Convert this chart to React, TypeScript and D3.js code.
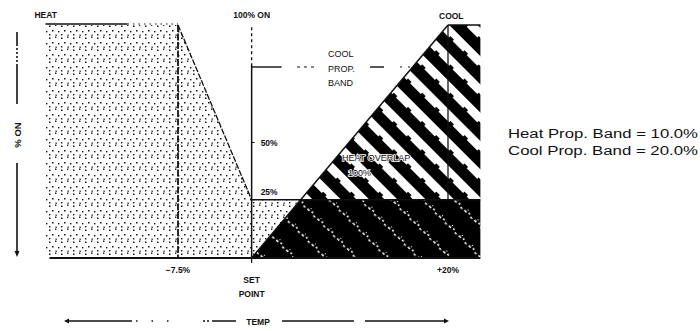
import React from "react";
import * as d3 from "d3";

// ---- data (temperature offset in %, output in % ON) ----
const tempExtent = [-21, 23.3];
const heatOutline: [number, number][] = [
  [-21, 100],
  [-7.5, 100],
  [0, 25],
  [0, 0],
  [-21, 0],
];
const coolLine: [number, number][] = [
  [0, 0],
  [20, 100],
];
const overlapLevel = 25;
const axisPctLabels = [
  { pct: 50, label: "50%" },
  { pct: 25, label: "25%" },
];
const tempTickLabels = [
  { t: -7.5, label: "\u22127.5%" },
  { t: 20, label: "+20%" },
];
const legendLines = ["Heat Prop. Band = 10.0%", "Cool Prop. Band = 20.0%"];
const coolBandLines = ["COOL", "PROP.", "BAND"];
const overlapLines = ["HEAT OVERLAP", "100%"];

const W = 700;
const H = 331;
const FONT = "'Liberation Sans', Arial, sans-serif";

export default function App() {
  const x = d3.scaleLinear().domain([-7.5, 20]).range([178, 448]);
  const y = d3.scaleLinear().domain([0, 100]).range([258, 25]);
  const line = d3
    .line<[number, number]>()
    .x((d) => x(d[0]))
    .y((d) => y(d[1]));

  const x0 = x(tempExtent[0]);
  const x1 = x(tempExtent[1]);
  const xs = x(0);
  const cross = (overlapLevel / 100) * (coolLine[1][0] - coolLine[0][0]);

  const heatPoly = line([...heatOutline, heatOutline[0]]) || "";
  const overlapTri =
    line([
      [0, overlapLevel],
      [cross, overlapLevel],
      [0, 0],
      [0, overlapLevel],
    ]) || "";
  const lowerBlack =
    line([
      [0, 0],
      [cross, overlapLevel],
      [tempExtent[1], overlapLevel],
      [tempExtent[1], 0],
      [0, 0],
    ]) || "";
  const coolHatch =
    line([
      [cross, overlapLevel],
      [coolLine[1][0], 100],
      [tempExtent[1], 100],
      [tempExtent[1], overlapLevel],
      [cross, overlapLevel],
    ]) || "";

  const lbl = { fontFamily: FONT, fontSize: 8.5, fontWeight: 700, fill: "#111" } as const;

  return (
    <svg
      width={W}
      height={H}
      style={{ position: "absolute", left: 0, top: 0, background: "#fff" }}
    >
      <defs>
        <pattern id="stip" width="12" height="12" patternUnits="userSpaceOnUse">
          <rect x="1" y="1.5" width="1.5" height="1.5" fill="#111" />
          <rect x="7" y="0.5" width="1.4" height="1.4" fill="#111" />
          <rect x="4" y="6" width="1.5" height="1.5" fill="#111" />
          <rect x="10" y="7" width="1.4" height="1.4" fill="#111" />
          <rect x="1" y="10" width="1.4" height="1.4" fill="#111" />
          <rect x="7.5" y="10.5" width="1.3" height="1.3" fill="#111" />
        </pattern>
        <pattern
          id="hatch"
          width="20"
          height="20"
          patternUnits="userSpaceOnUse"
          patternTransform="rotate(-45)"
        >
          <rect x="0" y="0" width="11" height="20" fill="#000" />
          <rect x="11" y="4" width="2" height="5" fill="#000" />
          <rect x="-2" y="12" width="2" height="4" fill="#fff" />
        </pattern>
        <pattern
          id="speck"
          width="22"
          height="14"
          patternUnits="userSpaceOnUse"
          patternTransform="rotate(-45)"
        >
          <rect x="0" y="0" width="22" height="14" fill="#000" />
          <rect x="3" y="1" width="1.5" height="3" fill="#fff" />
          <rect x="4" y="6" width="1.5" height="2" fill="#fff" />
          <rect x="2.5" y="10" width="1.5" height="2.5" fill="#fff" />
          <rect x="6" y="3" width="1" height="1" fill="#fff" />
        </pattern>
      </defs>

      {/* heat stipple */}
      <path d={heatPoly} fill="url(#stip)" />
      <path d={overlapTri} fill="url(#stip)" />
      {/* cool regions */}
      <path d={coolHatch} fill="url(#hatch)" />
      <path d={lowerBlack} fill="url(#speck)" />

      {/* heat top line */}
      <line x1={x0} x2={x0 + 82} y1={y(100) - 1} y2={y(100) - 1} stroke="#111" strokeWidth={1.6} />
      <line
        x1={x0 + 82}
        x2={x(-7.5)}
        y1={y(100) - 1}
        y2={y(100) - 1}
        stroke="#111"
        strokeWidth={1.2}
        strokeDasharray="1.5,4"
      />
      {/* -7.5% vertical */}
      <line
        x1={x(-7.5)}
        x2={x(-7.5)}
        y1={y(100)}
        y2={y(0)}
        stroke="#111"
        strokeWidth={1.8}
        strokeDasharray="7,1.5"
      />
      {/* heat slope */}
      <path
        d={line([heatOutline[1], heatOutline[2]]) || ""}
        stroke="#111"
        strokeWidth={1.3}
        fill="none"
        strokeDasharray="6,1.5"
      />
      {/* set point axis */}
      <line x1={xs} x2={xs} y1={y(99)} y2={65} stroke="#111" strokeWidth={1.3} strokeDasharray="3,3" />
      <line x1={xs} x2={xs} y1={65} y2={y(0)} stroke="#111" strokeWidth={1.5} />
      {/* 25% line */}
      <line x1={xs} x2={x1} y1={y(overlapLevel)} y2={y(overlapLevel)} stroke="#111" strokeWidth={1.5} />
      {/* cool diagonal */}
      <path d={line(coolLine) || ""} stroke="#111" strokeWidth={1.5} fill="none" />
      {/* cool top line */}
      <line x1={x(20)} x2={x1} y1={y(100)} y2={y(100)} stroke="#111" strokeWidth={1.6} />
      {/* +20% vertical */}
      <line x1={x(20)} x2={x(20)} y1={y(100)} y2={y(overlapLevel)} stroke="#111" strokeWidth={1.3} />
      {/* baseline */}
      <line x1={x0 + 4} x2={x1} y1={y(0)} y2={y(0)} stroke="#111" strokeWidth={2.2} />

      {/* cool prop band annotation */}
      <line x1={xs} x2={xs + 30} y1={67} y2={67} stroke="#111" strokeWidth={1.4} />
      <line x1={297} x2={318} y1={67} y2={67} stroke="#111" strokeWidth={1.2} strokeDasharray="3,4" />
      <line x1={370} x2={384} y1={67} y2={67} stroke="#111" strokeWidth={1.4} />
      <line x1={400} x2={410} y1={67} y2={67} stroke="#111" strokeWidth={1.2} strokeDasharray="2,6" />
      {coolBandLines.map((t, i) => (
        <text key={t} x={328} y={57 + i * 14.5} {...lbl} fontWeight={400} fontSize={9}>
          {t}
        </text>
      ))}

      {/* overlap text inside the hatch */}
      {overlapLines.map((t, i) => (
        <text
          key={t}
          x={i === 0 ? 342 : 348}
          y={161 + i * 15}
          {...lbl}
          fontSize={9}
          fontWeight={400}
          stroke="#fff"
          strokeWidth={1.6}
          paintOrder="stroke"
        >
          {t}
        </text>
      ))}

      {/* top labels */}
      <text x={x0 - 11} y={18} {...lbl}>HEAT</text>
      <text x={xs} y={18} textAnchor="middle" {...lbl}>100% ON</text>
      <text x={x(20) - 9} y={19} {...lbl}>COOL</text>

      {/* % labels on set point axis */}
      {axisPctLabels.map((d) => (
        <g key={d.label}>
          <line x1={xs} x2={xs + 3} y1={y(d.pct) + (d.pct === 50 ? 1 : 0)} y2={y(d.pct) + (d.pct === 50 ? 1 : 0)} stroke="#111" />
          <text x={xs + 9} y={y(d.pct) + (d.pct === 50 ? 4 : -5)} {...lbl}>
            {d.label}
          </text>
        </g>
      ))}

      {/* temperature tick labels */}
      {tempTickLabels.map((d) => (
        <text key={d.label} x={x(d.t)} y={273} textAnchor="middle" {...lbl}>
          {d.label}
        </text>
      ))}
      <line x1={xs} x2={xs} y1={y(0)} y2={y(0) + 5} stroke="#111" strokeWidth={1.2} />
      <text x={xs} y={283} textAnchor="middle" {...lbl}>SET</text>
      <text x={xs} y={297} textAnchor="middle" {...lbl}>POINT</text>

      {/* TEMP arrow */}
      <g stroke="#111" strokeWidth={1.6}>
        <line x1={66} x2={132} y1={321} y2={321} />
        <line x1={136} x2={182} y1={321} y2={321} strokeDasharray="1.5,14" />
        <line x1={203} x2={236} y1={321} y2={321} strokeDasharray="2,2,2,3,30" />
        <line x1={282} x2={354} y1={321} y2={321} />
        <line x1={365} x2={446} y1={321} y2={321} />
      </g>
      <path d="M64,321 l5,-2.5 v5 z" fill="#111" />
      <path d="M449,321 l-5,-2.5 v5 z" fill="#111" />
      <text x={258} y={324.5} textAnchor="middle" {...lbl}>TEMP</text>

      {/* % ON vertical label */}
      <g stroke="#111" strokeWidth={1.6}>
        <line x1={17} x2={17} y1={32} y2={44} />
        <line x1={17} x2={17} y1={44} y2={66} strokeDasharray="2,2" />
        <line x1={17} x2={17} y1={66} y2={104} />
        <line x1={17} x2={17} y1={163} y2={254} />
      </g>
      <path d="M17,257 l-2.5,-6 h5 z" fill="#111" />
      <text
        transform="translate(21,135) rotate(-90)"
        textAnchor="middle"
        {...lbl}
        fontSize={9.5}
      >
        % ON
      </text>

      {/* legend text */}
      {legendLines.map((t, i) => (
        <text
          key={t}
          x={508}
          y={138 + i * 17}
          fontFamily={FONT}
          fontSize={12}
          fill="#111"
          textLength={190}
          lengthAdjust="spacingAndGlyphs"
        >
          {t}
        </text>
      ))}
    </svg>
  );
}
